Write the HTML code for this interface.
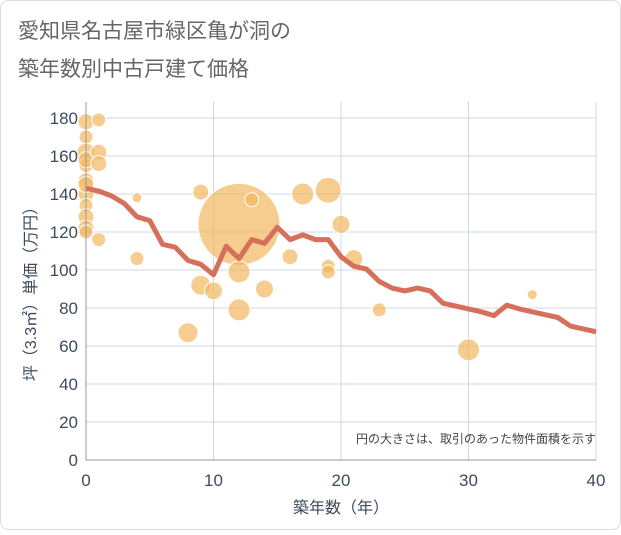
<!DOCTYPE html>
<html><head><meta charset="utf-8"><style>
body{margin:0;background:#fff;font-family:"Liberation Sans","Noto Sans CJK JP",sans-serif}
#wrap{position:relative;width:621px;height:530px}
</style></head><body>
<div id="wrap">
<svg id="c" width="621" height="530" xmlns="http://www.w3.org/2000/svg">
<rect x="0.5" y="0.5" width="620" height="529" rx="8" fill="#fff" stroke="#ddd"/>
<text x="18" y="38" font-size="21" fill="#666">愛知県名古屋市緑区亀が洞の</text>
<text x="18" y="76" font-size="21" fill="#666">築年数別中古戸建て価格</text>
<g id="grid"></g><g id="bubbles"></g><g id="line"></g><g id="axes"></g>
<text x="596" y="443" font-size="12" fill="#444" text-anchor="end">円の大きさは、取引のあった物件面積を示す</text>
<text x="341" y="513" font-size="16" fill="#3d4b5c" text-anchor="middle">築年数（年）</text>
<text transform="translate(36,290) rotate(-90)" font-size="16" fill="#3d4b5c" text-anchor="middle">坪（3.3㎡）単価（万円）</text>
</svg></div>
<script>
const xTicks=[0,10,20,30,40];
const yTicks=[0,20,40,60,80,100,120,140,160,180];
const lineYears=[0,1,2,3,4,5,6,7,8,9,10,11,12,13,14,15,16,17,18,19,20,21,22,23,24,25,26,27,28,29,30,31,32,33,34,35,36,37,38,39,40];
const lineValues=[143,141.5,139,135,128,126,113.5,112,105,103,97.5,112.5,106,116,114,122.5,116,118.5,116,116,107,102,100.5,94,90.5,89,90.5,89,82.5,81,79.5,78,76,81.5,79.5,78,76.5,75,70.5,69,67.5];
const bubbleX=[0,0,0,0,0,0,0,0,0,0,0,0,1,1,1,1,4,4,9,12,13,8,9,10,12,12,14,16,17,19,19,19,20,21,23,30,35];
const bubbleY=[178,170,162,155,147,140,134,128,122,120,145,158,179,162,156,116,138,106,141,124,137,67,92,89,99,79,90,107,140,142,102,99,124,106,79,58,87];
const bubbleSize=[8,7,9,7,8,8,7,8,8,7,8,8,7,8,8,7,5,7,8,41,7,10,10,9,11,11,9,8,11,13,7,7,9,9,7,11,5];
const NS="http://www.w3.org/2000/svg";
const X0=86,X1=596,Y0=460,Y1=118;
const sx=v=>X0+(v/40)*(X1-X0), sy=v=>Y0-(v/180)*(Y0-Y1);
function mk(t,a,p){const e=document.createElementNS(NS,t);for(const k in a)e.setAttribute(k,a[k]);document.getElementById(p).appendChild(e);return e;}
yTicks.forEach(v=>{const l=mk('line',{x1:X0,x2:X1,y1:sy(v),y2:sy(v),stroke:'#cdd8e3','stroke-width':1},'grid');


const t=mk('text',{x:X0-8,y:sy(v)+6,'font-size':17,fill:'#3d4b5c','text-anchor':'end'},'axes');t.textContent=v;

});
xTicks.forEach(v=>{const l=mk('line',{x1:sx(v),x2:sx(v),y1:102,y2:Y0,stroke:'#cdd8e3','stroke-width':1},'grid');


const t=mk('text',{x:sx(v),y:486,'font-size':17,fill:'#3d4b5c','text-anchor':'middle'},'axes');t.textContent=v;

});
const ax=mk('path',{d:`M${X0},102V${Y0}H${X1}`,fill:'none',stroke:'#999','stroke-width':1},'axes');


bubbleX.forEach((x,i)=>{const c=mk('circle',{cx:sx(x),cy:sy(bubbleY[i]),r:bubbleSize[i],fill:'#f2b860','fill-opacity':0.7,stroke:'#fff','stroke-width':1},'bubbles');

});
const p=mk('polyline',{points:lineYears.map((y,i)=>sx(y)+','+sy(lineValues[i])).join(' '),fill:'none',stroke:'#d6705a','stroke-width':5,'stroke-linejoin':'round'},'line');


</script></body></html>
